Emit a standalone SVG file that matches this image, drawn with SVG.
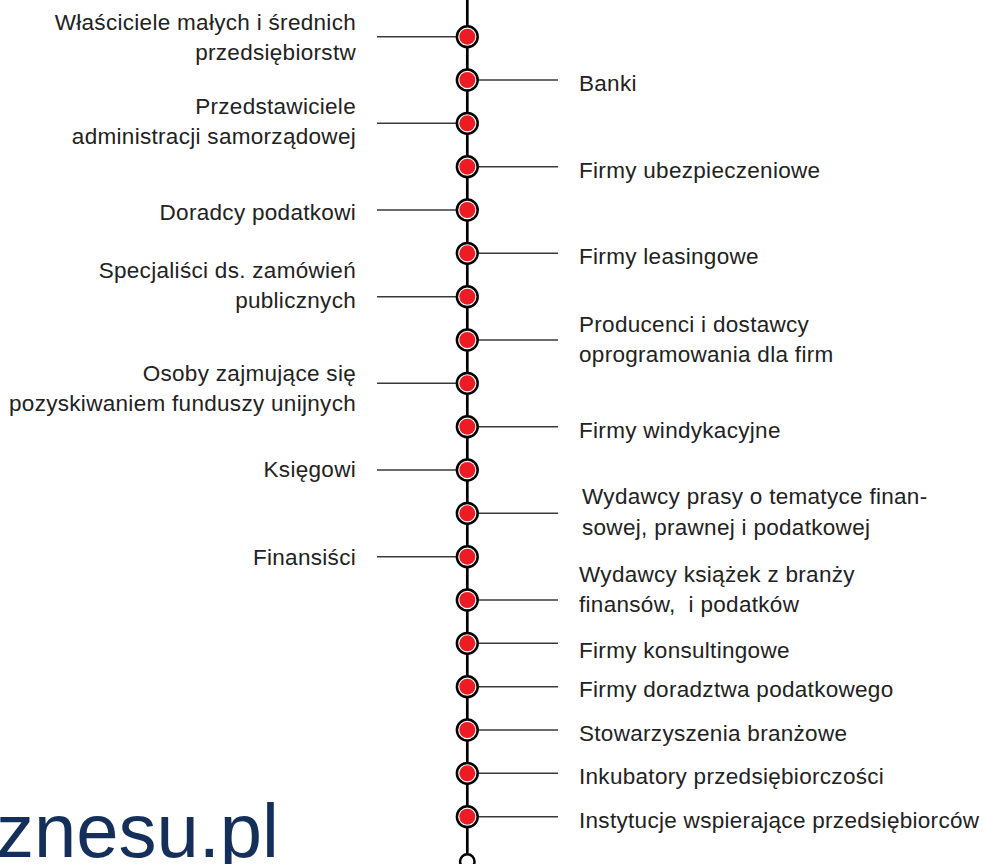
<svg xmlns="http://www.w3.org/2000/svg" width="984" height="864" viewBox="0 0 984 864">
<style>
.t{font-family:"Liberation Sans",Arial,Helvetica,sans-serif;font-size:22.5px;letter-spacing:0.3px;fill:#222;white-space:pre}
.l{text-anchor:end}
.c{stroke:#3a3a3a;stroke-width:1.5;fill:none}
.ring{fill:#fff;stroke:#000;stroke-width:2.5}
.dot{fill:#ed1c24}
</style>
<defs>
<g id="m"><circle class="ring" r="10.4"/><circle class="dot" r="8"/></g>
</defs>
<rect width="984" height="864" fill="#fff"/>
<text x="279" y="857" text-anchor="end" style="font-family:'Liberation Sans',Arial,sans-serif;font-size:76px;fill:#14305a">znesu.pl</text>
<g id="connectors">
<line x1="467.3" y1="0" x2="467.3" y2="854" stroke="#000" stroke-width="2.7"/>
<line class="c" x1="377" y1="36.7" x2="457" y2="36.7"/>
<line class="c" x1="478" y1="80" x2="558" y2="80"/>
<line class="c" x1="377" y1="123.3" x2="457" y2="123.3"/>
<line class="c" x1="478" y1="166.7" x2="558" y2="166.7"/>
<line class="c" x1="377" y1="210" x2="457" y2="210"/>
<line class="c" x1="478" y1="253.3" x2="558" y2="253.3"/>
<line class="c" x1="377" y1="296.7" x2="457" y2="296.7"/>
<line class="c" x1="478" y1="340" x2="558" y2="340"/>
<line class="c" x1="377" y1="383.3" x2="457" y2="383.3"/>
<line class="c" x1="478" y1="426.7" x2="558" y2="426.7"/>
<line class="c" x1="377" y1="470" x2="457" y2="470"/>
<line class="c" x1="478" y1="513.3" x2="558" y2="513.3"/>
<line class="c" x1="377" y1="556.7" x2="457" y2="556.7"/>
<line class="c" x1="478" y1="600" x2="558" y2="600"/>
<line class="c" x1="478" y1="643.3" x2="558" y2="643.3"/>
<line class="c" x1="478" y1="686.7" x2="558" y2="686.7"/>
<line class="c" x1="478" y1="730" x2="558" y2="730"/>
<line class="c" x1="478" y1="773.3" x2="558" y2="773.3"/>
<line class="c" x1="478" y1="816.7" x2="558" y2="816.7"/>
</g>
<g id="end"><circle cx="467.3" cy="861.5" r="7.2" fill="#fff" stroke="#000" stroke-width="2.5"/></g>
<g id="n1"><use href="#m" x="467.3" y="36.7"/><text class="t l" x="356" y="30">Właściciele małych i średnich</text><text class="t l" x="356" y="60">przedsiębiorstw</text></g>
<g id="n2"><use href="#m" x="467.3" y="80"/><text class="t" x="579" y="91">Banki</text></g>
<g id="n3"><use href="#m" x="467.3" y="123.3"/><text class="t l" x="356" y="114">Przedstawiciele</text><text class="t l" x="356" y="144">administracji samorządowej</text></g>
<g id="n4"><use href="#m" x="467.3" y="166.7"/><text class="t" x="579" y="178">Firmy ubezpieczeniowe</text></g>
<g id="n5"><use href="#m" x="467.3" y="210"/><text class="t l" x="356" y="220">Doradcy podatkowi</text></g>
<g id="n6"><use href="#m" x="467.3" y="253.3"/><text class="t" x="579" y="264">Firmy leasingowe</text></g>
<g id="n7"><use href="#m" x="467.3" y="296.7"/><text class="t l" x="356" y="278">Specjaliści ds. zamówień</text><text class="t l" x="356" y="308">publicznych</text></g>
<g id="n8"><use href="#m" x="467.3" y="340"/><text class="t" x="579" y="332">Producenci i dostawcy</text><text class="t" x="579" y="362">oprogramowania dla firm</text></g>
<g id="n9"><use href="#m" x="467.3" y="383.3"/><text class="t l" x="356" y="381">Osoby zajmujące się</text><text class="t l" x="356" y="411">pozyskiwaniem funduszy unijnych</text></g>
<g id="n10"><use href="#m" x="467.3" y="426.7"/><text class="t" x="579" y="438">Firmy windykacyjne</text></g>
<g id="n11"><use href="#m" x="467.3" y="470"/><text class="t l" x="356" y="477">Księgowi</text></g>
<g id="n12"><use href="#m" x="467.3" y="513.3"/><text class="t" x="582" y="504">Wydawcy prasy o tematyce finan-</text><text class="t" x="582" y="535">sowej, prawnej i podatkowej</text></g>
<g id="n13"><use href="#m" x="467.3" y="556.7"/><text class="t l" x="356" y="565">Finansiści</text></g>
<g id="n14"><use href="#m" x="467.3" y="600"/><text class="t" x="579" y="582">Wydawcy książek z branży</text><text class="t" x="579" y="612" xml:space="preserve">finansów,  i podatków</text></g>
<g id="n15"><use href="#m" x="467.3" y="643.3"/><text class="t" x="579" y="658">Firmy konsultingowe</text></g>
<g id="n16"><use href="#m" x="467.3" y="686.7"/><text class="t" x="579" y="697">Firmy doradztwa podatkowego</text></g>
<g id="n17"><use href="#m" x="467.3" y="730"/><text class="t" x="579" y="741">Stowarzyszenia branżowe</text></g>
<g id="n18"><use href="#m" x="467.3" y="773.3"/><text class="t" x="579" y="784">Inkubatory przedsiębiorczości</text></g>
<g id="n19"><use href="#m" x="467.3" y="816.7"/><text class="t" x="579" y="828">Instytucje wspierające przedsiębiorców</text></g>
</svg>
